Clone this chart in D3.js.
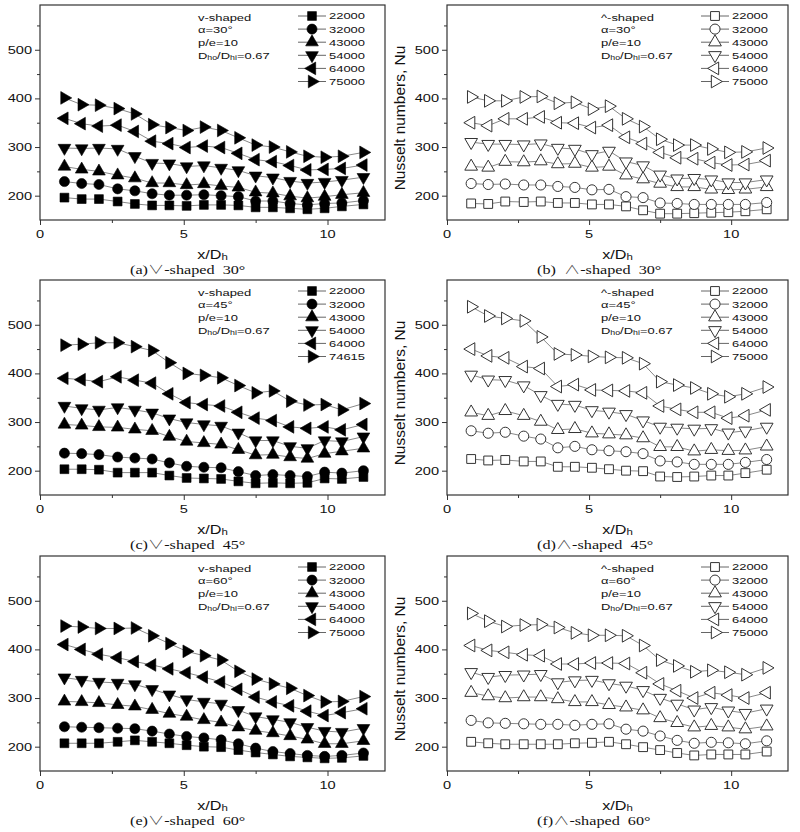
<!DOCTYPE html>
<html>
<head>
<meta charset="utf-8">
<script src="https://cdn.jsdelivr.net/npm/d3@7"></script>
<style>
  body { margin: 0; background: #fff; }
  svg { display: block; }
</style>
</head>
<body>
<div id="chart"></div>
<script>
// x/Dh stations (same for every panel)
const xPos = [0.85, 1.45, 2.05, 2.7, 3.3, 3.9, 4.5, 5.1, 5.7, 6.3, 6.9, 7.5, 8.1, 8.7, 9.3, 9.9, 10.5, 11.25]

const reLabels = ['22000', '32000', '43000', '54000', '64000', '75000']
const reLabels45v = ['22000', '32000', '43000', '54000', '64000', '74615']

const yTicks = [200, 300, 400, 500]
const yMinor = [250, 350, 450, 550]
const xTicks = [0, 5, 10]
const xMinor = [2.5, 7.5]

// Nusselt numbers, one row per Reynolds number (22000 ... 75000)
const nuV30 = [
  [196, 193, 193, 188, 183, 180, 180, 179, 181, 181, 180, 176, 176, 174, 172, 174, 178, 182],
  [229, 225, 223, 214, 210, 204, 201, 201, 202, 200, 198, 189, 189, 184, 181, 184, 185, 190],
  [260, 254, 250, 242, 236, 226, 226, 222, 224, 220, 217, 207, 205, 199, 195, 198, 202, 206],
  [298, 297, 298, 296, 281, 267, 266, 260, 262, 257, 252, 241, 237, 230, 226, 228, 232, 238],
  [359, 348, 343, 345, 332, 312, 307, 299, 302, 299, 287, 274, 270, 262, 253, 254, 256, 263],
  [401, 387, 386, 379, 368, 346, 340, 334, 341, 334, 319, 304, 300, 290, 281, 279, 281, 289]
]
const nuA30 = [
  [184, 183, 188, 187, 188, 185, 185, 182, 182, 178, 170, 163, 163, 164, 165, 166, 168, 172],
  [225, 223, 224, 222, 222, 219, 217, 212, 213, 198, 196, 185, 184, 182, 182, 182, 182, 186],
  [260, 258, 270, 269, 271, 265, 266, 258, 260, 242, 234, 225, 218, 218, 213, 212, 213, 218],
  [310, 306, 306, 305, 307, 298, 296, 285, 292, 270, 262, 243, 235, 236, 233, 227, 227, 233],
  [350, 344, 358, 358, 362, 350, 349, 340, 345, 320, 307, 289, 278, 276, 268, 263, 264, 272],
  [403, 395, 395, 403, 404, 390, 392, 378, 384, 358, 342, 316, 304, 304, 296, 289, 290, 298]
]
const nuV45 = [
  [203, 203, 202, 196, 196, 196, 190, 185, 184, 183, 178, 174, 175, 174, 175, 184, 183, 187],
  [236, 235, 233, 228, 226, 224, 216, 209, 207, 206, 198, 190, 192, 190, 188, 197, 195, 200],
  [295, 293, 290, 289, 285, 282, 270, 260, 257, 254, 243, 232, 233, 228, 225, 235, 240, 246],
  [333, 328, 325, 330, 325, 319, 307, 299, 295, 292, 278, 262, 262, 250, 246, 262, 260, 270],
  [390, 387, 383, 393, 386, 380, 358, 340, 336, 333, 320, 308, 303, 290, 287, 290, 284, 295],
  [458, 460, 463, 463, 455, 447, 422, 400, 396, 391, 375, 360, 364, 343, 335, 336, 325, 338]
]
const nuA45 = [
  [224, 221, 222, 219, 219, 208, 208, 206, 203, 200, 199, 188, 187, 188, 190, 190, 195, 202],
  [282, 277, 279, 271, 265, 247, 250, 243, 241, 239, 235, 220, 218, 213, 213, 213, 217, 223],
  [320, 313, 323, 313, 301, 284, 286, 277, 275, 273, 267, 249, 249, 240, 243, 241, 242, 250],
  [397, 387, 386, 375, 355, 337, 335, 324, 321, 316, 303, 290, 288, 286, 287, 278, 282, 290],
  [450, 436, 432, 414, 410, 373, 377, 366, 365, 364, 360, 333, 326, 320, 320, 308, 313, 325],
  [537, 518, 513, 508, 475, 440, 438, 435, 433, 432, 420, 383, 376, 370, 358, 352, 358, 372]
]
const nuV60 = [
  [207, 207, 207, 210, 213, 210, 207, 203, 200, 199, 193, 188, 184, 180, 178, 176, 177, 181],
  [241, 240, 239, 238, 237, 232, 226, 221, 218, 214, 206, 197, 190, 186, 182, 180, 182, 187],
  [293, 292, 290, 286, 283, 276, 268, 262, 255, 250, 240, 233, 228, 222, 215, 206, 206, 212],
  [342, 337, 333, 331, 328, 318, 307, 297, 292, 288, 275, 262, 256, 250, 240, 232, 230, 238],
  [410, 400, 390, 383, 375, 368, 360, 352, 343, 333, 318, 302, 292, 284, 273, 264, 270, 278],
  [448, 446, 443, 443, 444, 428, 412, 396, 387, 378, 355, 339, 329, 320, 305, 292, 293, 303]
]
const nuA60 = [
  [210, 207, 205, 205, 205, 205, 207, 208, 210, 205, 199, 193, 187, 182, 184, 184, 184, 190],
  [254, 249, 248, 247, 246, 246, 244, 246, 247, 236, 232, 222, 213, 207, 209, 208, 206, 212],
  [311, 304, 300, 302, 302, 298, 292, 292, 286, 281, 275, 259, 249, 240, 243, 240, 236, 242],
  [353, 343, 347, 348, 349, 332, 336, 337, 330, 325, 316, 300, 288, 276, 281, 274, 269, 278],
  [408, 398, 394, 389, 387, 370, 370, 372, 372, 371, 352, 329, 315, 300, 311, 306, 300, 311],
  [474, 458, 447, 450, 451, 445, 434, 429, 429, 428, 408, 378, 366, 354, 357, 353, 348, 362]
]

const width = 800
const height = 832
const sans = '"Liberation Sans", Arial, sans-serif'
const serif = '"Liberation Serif", "Times New Roman", serif'
const thin = '"Noto Sans CJK SC", "Noto Sans", sans-serif'
const stretch = 1.35   // the figure is widened horizontally

const cols = [{ left: 40, right: 385 }, { left: 447, right: 788 }]
const rows = [{ top: 5, bottom: 220 }, { top: 280, bottom: 495 }, { top: 556, bottom: 771 }]

const panels = [
  { data: nuV30, labels: reLabels, open: false, col: 0, row: 0, tag: 'v-shaped', angle: '30', caption: ['(a)', '\u2228', '-shaped  30\u00b0'] },
  { data: nuA30, labels: reLabels, open: true, col: 1, row: 0, tag: '^-shaped', angle: '30', caption: ['(b)  ', '\u2227', '-shaped  30\u00b0'] },
  { data: nuV45, labels: reLabels45v, open: false, col: 0, row: 1, tag: 'v-shaped', angle: '45', caption: ['(c)', '\u2228', '-shaped  45\u00b0'] },
  { data: nuA45, labels: reLabels, open: true, col: 1, row: 1, tag: '^-shaped', angle: '45', caption: ['(d)', '\u2227', '-shaped  45\u00b0'] },
  { data: nuV60, labels: reLabels, open: false, col: 0, row: 2, tag: 'v-shaped', angle: '60', caption: ['(e)', '\u2228', '-shaped  60\u00b0'] },
  { data: nuA60, labels: reLabels, open: true, col: 1, row: 2, tag: '^-shaped', angle: '60', caption: ['(f)', '\u2227', '-shaped  60\u00b0'] }
]

// square, circle, up, down, left, right
const shapes = [
  { type: d3.symbolSquare, size: 78, rot: 0 },
  { type: d3.symbolCircle, size: 80, rot: 0 },
  { type: d3.symbolTriangle, size: 70, rot: 0 },
  { type: d3.symbolTriangle, size: 70, rot: 180 },
  { type: d3.symbolTriangle, size: 70, rot: -90 },
  { type: d3.symbolTriangle, size: 70, rot: 90 }
]

const svg = d3.select('#chart')
  .append('svg')
  .attr('width', width)
  .attr('height', height)

svg.append('rect').attr('width', width).attr('height', height).attr('fill', '#fff')

const drawMarker = (g, s, open, x, y) => {
  g.append('path')
    .attr('d', d3.symbol().type(s.type).size(s.size)())
    .attr('transform', `translate(${x},${y}) rotate(${s.rot})`)
    .attr('fill', open ? '#fff' : '#000')
    .attr('stroke', open ? '#333' : '#000')
    .attr('stroke-width', open ? 1 : 0.6)
}

// text widened in x with its anchor kept in place
const wideText = (g, x, y, anchor, size, family) => {
  return g.append('text')
    .attr('transform', `translate(${x},${y}) scale(${stretch},1)`)
    .attr('text-anchor', anchor)
    .attr('font-family', family)
    .attr('font-size', size)
    .attr('fill', '#111')
}

const drawPanel = (p) => {
  const c = cols[p.col]
  const r = rows[p.row]
  const g = svg.append('g')

  const x = d3.scaleLinear().domain([0, 12]).range([c.left, c.right])
  const y = d3.scaleLinear().domain([150, 592]).range([r.bottom, r.top])

  // axes
  g.append('g')
    .attr('transform', `translate(0,${r.bottom})`)
    .call(d3.axisBottom(x).tickValues(xTicks).tickSize(5).tickFormat(''))
  g.append('g')
    .attr('transform', `translate(0,${r.bottom})`)
    .call(d3.axisBottom(x).tickValues(xMinor).tickSize(3).tickFormat(''))
  g.append('g')
    .attr('transform', `translate(${c.left},0)`)
    .call(d3.axisLeft(y).tickValues(yTicks).tickSize(5).tickFormat(''))
  g.append('g')
    .attr('transform', `translate(${c.left},0)`)
    .call(d3.axisLeft(y).tickValues(yMinor).tickSize(3).tickFormat(''))
  g.selectAll('.domain').remove()
  g.selectAll('.tick line').attr('stroke', '#333').attr('stroke-width', 1)

  xTicks.forEach(t => {
    wideText(g, x(t), r.bottom + 18, 'middle', 10.8, sans).text(t)
  })
  yTicks.forEach(t => {
    wideText(g, c.left - 8, y(t) + 3.9, 'end', 10.8, sans).text(t)
  })

  g.append('rect')
    .attr('x', c.left)
    .attr('y', r.top)
    .attr('width', c.right - c.left)
    .attr('height', r.bottom - r.top)
    .attr('fill', 'none')
    .attr('stroke', '#333')
    .attr('stroke-width', 1.2)

  // series
  const line = d3.line()
    .x((d, i) => x(xPos[i]))
    .y(d => y(d))

  p.data.forEach((series) => {
    g.append('path')
      .attr('d', line(series))
      .attr('fill', 'none')
      .attr('stroke', '#888')
      .attr('stroke-width', 1)
  })
  p.data.forEach((series, k) => {
    series.forEach((v, i) => drawMarker(g, shapes[k], p.open, x(xPos[i]), y(v)))
  })

  // legend
  p.labels.forEach((lab, k) => {
    const ly = r.top + 11 + k * 13.1
    g.append('line')
      .attr('x1', c.right - 87).attr('x2', c.right - 59)
      .attr('y1', ly).attr('y2', ly)
      .attr('stroke', '#666').attr('stroke-width', 1)
    drawMarker(g, shapes[k], p.open, c.right - 73, ly)
    wideText(g, c.right - 56, ly + 3.4, 'start', 9.6, sans).text(lab)
  })

  // annotation
  const ax = c.right - 187
  const ay = r.top + 15.5
  wideText(g, ax, ay, 'start', 9.6, sans).text(p.tag)
  wideText(g, ax, ay + 12.8, 'start', 9.6, sans).text(`\u03b1=${p.angle}\u00b0`)
  wideText(g, ax, ay + 25.6, 'start', 9.6, sans).text('p/e=10')
  const dt = wideText(g, ax, ay + 38.4, 'start', 9.6, sans)
  dt.append('tspan').text('D')
  dt.append('tspan').attr('font-size', 6.5).attr('dy', 1.5).text('ho')
  dt.append('tspan').attr('dy', -1.5).text('/D')
  dt.append('tspan').attr('font-size', 6.5).attr('dy', 1.5).text('hi')
  dt.append('tspan').attr('dy', -1.5).text('=0.67')

  // x label
  const xl = wideText(g, (c.left + c.right) / 2, r.bottom + 39, 'middle', 12, sans)
  xl.append('tspan').text('x/D')
  xl.append('tspan').attr('font-size', 8.5).attr('dy', 1).text('h')

  // y label only survives on the right column
  if (p.col === 1) {
    g.append('text')
      .attr('transform', `translate(${c.left - 42},${r.top + 113}) rotate(-90)`)
      .attr('text-anchor', 'middle')
      .attr('font-family', sans)
      .attr('font-size', 15.5)
      .attr('fill', '#111')
      .text('Nusselt numbers, Nu')
  }

  // caption
  const cap = wideText(g, c.left + 90, r.bottom + 54, 'start', 12, serif)
    .style('white-space', 'pre')
  cap.append('tspan').text(p.caption[0])
  cap.append('tspan')
    .attr('font-family', thin)
    .attr('font-weight', 300)
    .attr('fill', '#444')
    .text(p.caption[1])
  cap.append('tspan').text(p.caption[2])
}

panels.forEach(drawPanel)
</script>
</body>
</html>
